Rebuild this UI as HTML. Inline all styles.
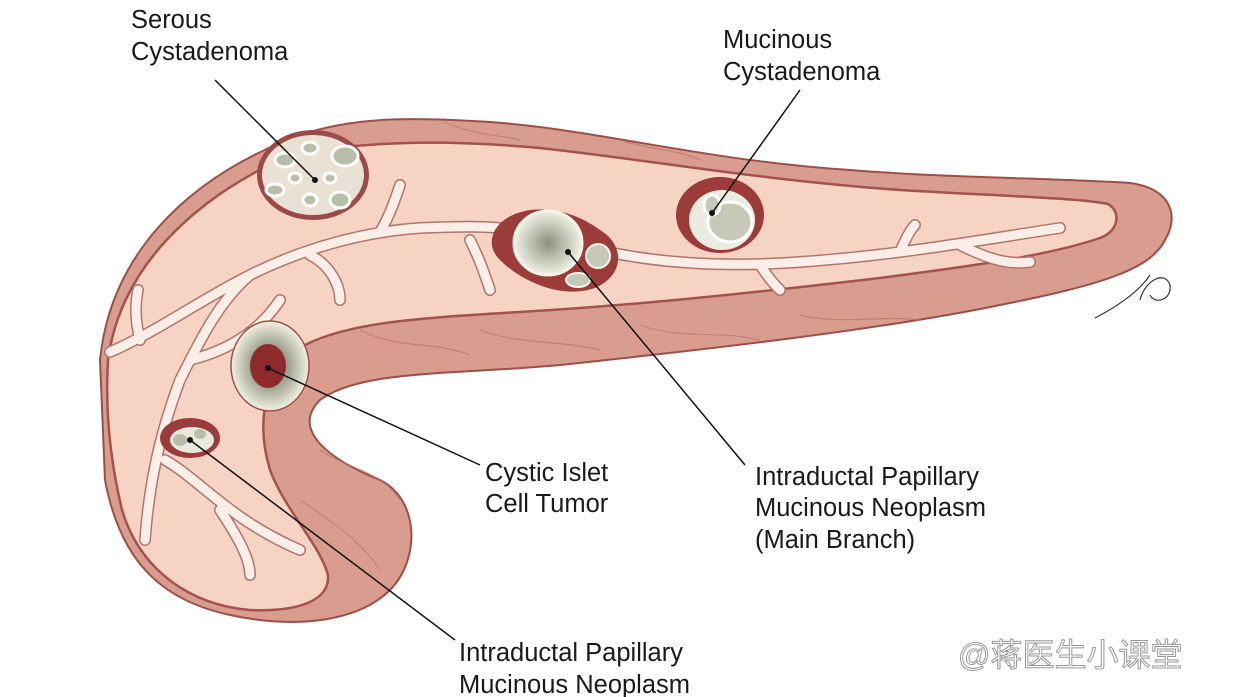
<!DOCTYPE html>
<html><head><meta charset="utf-8"><style>
html,body{margin:0;padding:0;background:#fff;}
svg{display:block;}
text{font-family:"Liberation Sans",sans-serif;font-size:25.5px;fill:#1a1a1a;}
</style></head><body>
<svg width="1242" height="697" viewBox="0 0 1242 697">
<defs>
<radialGradient id="cg" cx="50%" cy="50%" r="50%"><stop offset="0" stop-color="#8a9080"/><stop offset="0.6" stop-color="#c8ccbb"/><stop offset="1" stop-color="#eef0e4"/></radialGradient>
<radialGradient id="ig" cx="50%" cy="50%" r="50%"><stop offset="0.45" stop-color="#9aa08c"/><stop offset="1" stop-color="#f2f0e2"/></radialGradient>
</defs>
<path d="M100,360 C110,260 180,180 300,135 C360,115 420,118 490,122 C600,130 700,160 850,170 C950,178 1050,178 1130,183 C1170,188 1180,215 1165,240 C1150,270 1100,285 1000,305 C880,330 700,350 560,365 C450,375 360,370 320,400 C290,430 330,460 380,480 C420,500 420,560 390,590 C360,620 300,630 230,615 C160,600 120,560 105,480 Z" fill="#d99d90" stroke="#9b4f49" stroke-width="2"/>
<g stroke="#b9766c" stroke-width="1.2" fill="none" opacity="0.7">
<path d="M360,330 C400,350 430,340 470,355"/><path d="M480,330 C520,345 560,340 600,350"/><path d="M640,325 C680,340 720,330 760,340"/><path d="M800,315 C840,325 880,315 920,320"/><path d="M320,450 C350,470 380,470 400,500"/><path d="M300,500 C330,520 360,540 380,570"/><path d="M440,120 C470,135 500,135 520,140"/><path d="M620,140 C650,150 680,150 700,160"/>
</g>
<path d="M108,360 C120,270 190,200 290,155 C370,140 450,140 540,148 C650,160 760,180 900,190 C1000,196 1080,198 1108,204 C1122,212 1118,232 1100,238 C1050,255 980,265 880,278 C760,292 640,305 520,312 C420,318 350,322 305,345 C265,370 255,420 270,470 C285,510 320,545 328,575 C330,600 300,612 250,610 C190,605 140,570 122,510 C110,460 105,410 108,360 Z" fill="#f6d3c3" stroke="#a4534c" stroke-width="2.5"/>
<g fill="none" stroke-linecap="round">
<path d="M110,352 C160,330 200,300 250,275 C300,250 360,232 420,228 C460,226 490,226 520,230 M600,250 C650,262 720,268 800,262 C900,255 980,240 1060,228 M250,275 C220,300 200,340 180,380 C165,420 150,470 145,540 M190,360 C230,350 260,330 280,300 M380,232 C390,215 395,200 400,185 M310,255 C330,265 340,285 340,300 M470,240 C480,260 485,275 490,290 M165,460 C200,480 230,520 300,550 M220,510 C240,540 250,560 250,575 M900,252 C905,240 910,230 915,225 M760,265 C770,280 775,285 780,290 M960,245 C990,260 1010,265 1030,262 M140,340 C135,320 135,305 138,290" stroke="#b0756c" stroke-width="12"/>
<path d="M110,352 C160,330 200,300 250,275 C300,250 360,232 420,228 C460,226 490,226 520,230 M600,250 C650,262 720,268 800,262 C900,255 980,240 1060,228 M250,275 C220,300 200,340 180,380 C165,420 150,470 145,540 M190,360 C230,350 260,330 280,300 M380,232 C390,215 395,200 400,185 M310,255 C330,265 340,285 340,300 M470,240 C480,260 485,275 490,290 M165,460 C200,480 230,520 300,550 M220,510 C240,540 250,560 250,575 M900,252 C905,240 910,230 915,225 M760,265 C770,280 775,285 780,290 M960,245 C990,260 1010,265 1030,262 M140,340 C135,320 135,305 138,290" stroke="#fbeee8" stroke-width="9"/>
</g>
<ellipse cx="313" cy="175" rx="56" ry="45" fill="#9b4a47"/>
<ellipse cx="313" cy="175" rx="51" ry="40" fill="#e9e2d4"/>
<g fill="#b7bfa8" stroke="#fff" stroke-width="3">
<ellipse cx="285" cy="160" rx="10" ry="7"/><ellipse cx="345" cy="156" rx="13" ry="10"/><ellipse cx="310" cy="148" rx="8" ry="6"/><ellipse cx="275" cy="190" rx="9" ry="6"/><ellipse cx="340" cy="200" rx="10" ry="8"/><ellipse cx="310" cy="200" rx="7" ry="6"/><ellipse cx="295" cy="178" rx="6" ry="5"/><ellipse cx="330" cy="178" rx="6" ry="5"/>
</g>
<ellipse cx="720" cy="215" rx="44" ry="38" fill="#9b3c3a"/>
<ellipse cx="722" cy="220" rx="33" ry="30" fill="#ecebe0"/>
<ellipse cx="730" cy="222" rx="22" ry="20" fill="#c6c9b8" stroke="#fff" stroke-width="3"/>
<ellipse cx="712" cy="205" rx="8" ry="10" fill="#c6c9b8" stroke="#fff" stroke-width="3"/>
<path d="M495,230 C510,205 560,200 600,230 C625,245 625,275 595,288 C560,300 520,280 500,260 C490,250 490,240 495,230 Z" fill="#9b3c3a"/>
<ellipse cx="548" cy="243" rx="34" ry="32" fill="url(#cg)" stroke="#f5f2e8" stroke-width="3"/>
<ellipse cx="598" cy="256" rx="12" ry="12" fill="#c6c9b8" stroke="#f5f2e8" stroke-width="2"/>
<ellipse cx="578" cy="280" rx="12" ry="7" fill="#c6c9b8" stroke="#f5f2e8" stroke-width="2"/>
<ellipse cx="270" cy="366" rx="39" ry="45" fill="url(#ig)" stroke="#9b4f49" stroke-width="1.5"/>
<ellipse cx="268" cy="366" rx="18" ry="22" fill="#8e2a2c"/>
<ellipse cx="190" cy="438" rx="30" ry="20" fill="#9b3c3a"/>
<ellipse cx="192" cy="440" rx="22" ry="13" fill="#e9e8dc"/>
<ellipse cx="180" cy="440" rx="7" ry="6" fill="#b8bca8"/><ellipse cx="200" cy="434" rx="6" ry="5" fill="#b8bca8"/>
<path d="M1095,318 C1120,305 1140,290 1150,275 M1140,300 C1145,280 1165,270 1170,285 C1172,300 1155,305 1150,295" fill="none" stroke="#333" stroke-width="1.2"/>
<g stroke="#111" stroke-width="1.5">
<line x1="215" y1="80" x2="315" y2="180"/><line x1="800" y1="90" x2="712" y2="213"/>
<line x1="480" y1="465" x2="268" y2="368"/><line x1="745" y1="465" x2="568" y2="252"/>
<line x1="455" y1="640" x2="190" y2="440"/>
</g>
<g fill="#111"><circle cx="315" cy="180" r="3"/><circle cx="712" cy="213" r="3"/><circle cx="268" cy="368" r="3"/><circle cx="568" cy="252" r="3"/><circle cx="190" cy="440" r="3"/></g>
<text x="131" y="28">Serous</text><text x="131" y="60">Cystadenoma</text>
<text x="723" y="48">Mucinous</text><text x="723" y="80">Cystadenoma</text>
<text x="485" y="481">Cystic Islet</text><text x="485" y="512">Cell Tumor</text>
<text x="755" y="485">Intraductal Papillary</text><text x="755" y="516">Mucinous Neoplasm</text><text x="755" y="548">(Main Branch)</text>
<text x="459" y="661">Intraductal Papillary</text><text x="459" y="693">Mucinous Neoplasm</text>
<text x="958" y="666" style="font-family:'Liberation Sans','Noto Sans CJK SC',sans-serif;font-size:32px;fill:#fff;stroke:#999;stroke-width:1">@蒋医生小课堂</text>
</svg>
</body></html>
